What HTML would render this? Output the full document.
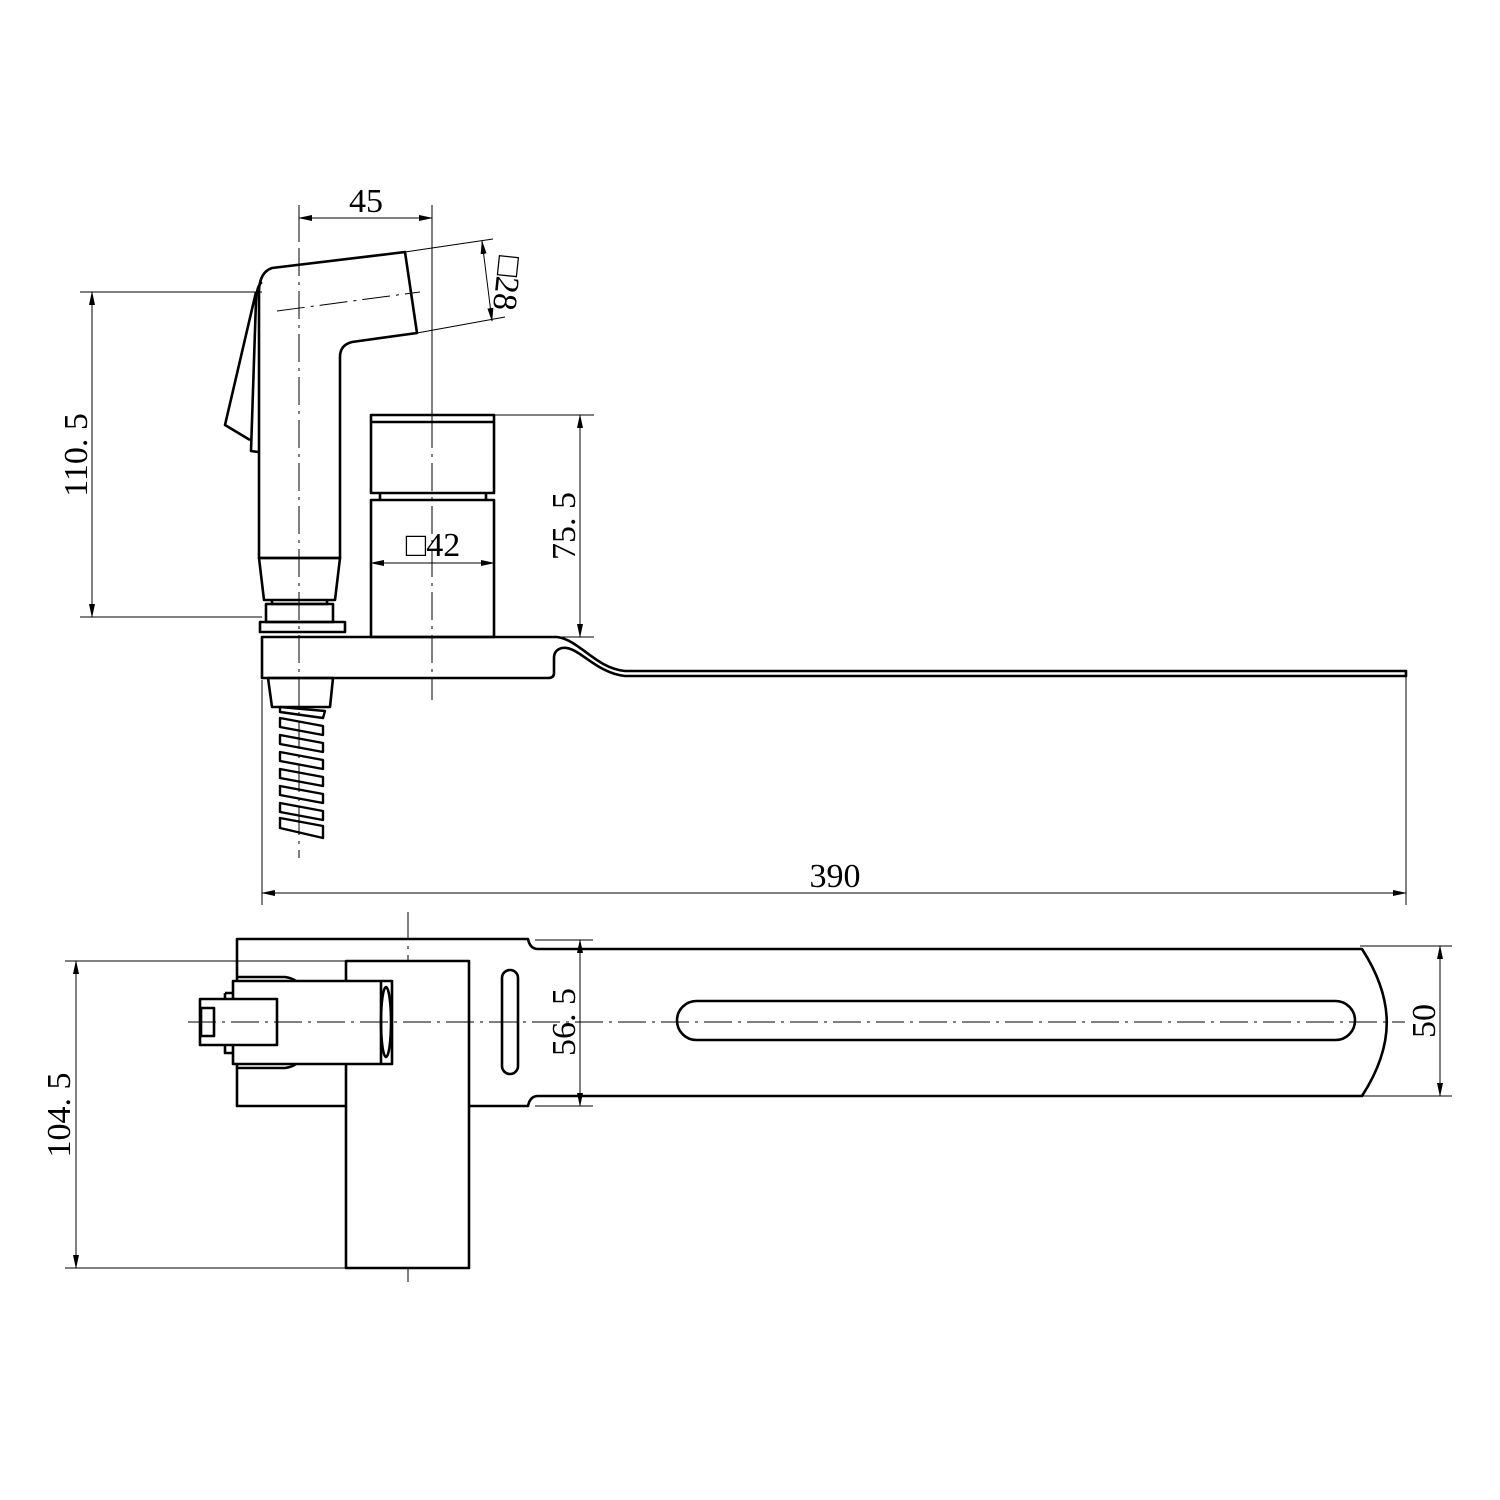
<!DOCTYPE html>
<html><head><meta charset="utf-8"><style>
html,body{margin:0;padding:0;background:#fff}
svg{display:block}
text{font-family:"Liberation Serif",serif;font-size:34px;fill:#000}
</style></head><body>
<svg width="1500" height="1500" viewBox="0 0 1500 1500" xmlns="http://www.w3.org/2000/svg">
<defs>
<marker id="a" markerWidth="14" markerHeight="6" refX="13" refY="3" orient="auto-start-reverse" markerUnits="userSpaceOnUse"><path d="M0,0 L14,3 L0,6 Z" fill="#000"/></marker>
</defs>
<g fill="none" stroke="#000">
<g stroke-width="1" stroke-dasharray="28,6,3,6">
<line x1="299" y1="205" x2="299" y2="858"/>
<line x1="432" y1="205" x2="432" y2="700"/>
<line x1="277" y1="311" x2="420" y2="292"/>
<line x1="188" y1="1022" x2="1405" y2="1022"/>
<line x1="408" y1="912" x2="408" y2="1282"/>
</g>
<g stroke-width="1">
<line x1="299" y1="205" x2="299" y2="240"/>
<line x1="432" y1="205" x2="432" y2="420"/>
<line x1="299" y1="218" x2="432" y2="218" marker-start="url(#a)" marker-end="url(#a)"/>
<line x1="80" y1="292" x2="262" y2="292"/>
<line x1="80" y1="617" x2="262" y2="617"/>
<line x1="92" y1="292" x2="92" y2="617" marker-start="url(#a)" marker-end="url(#a)"/>
<line x1="405" y1="252" x2="493" y2="239"/>
<line x1="417" y1="333" x2="505" y2="317"/>
<line x1="482" y1="241" x2="492" y2="321" marker-start="url(#a)" marker-end="url(#a)"/>
<line x1="494" y1="415" x2="594" y2="415"/>
<line x1="494" y1="637" x2="594" y2="637"/>
<line x1="580" y1="415" x2="580" y2="637" marker-start="url(#a)" marker-end="url(#a)"/>
<line x1="371" y1="563" x2="494" y2="563" marker-start="url(#a)" marker-end="url(#a)"/>
<line x1="262" y1="680" x2="262" y2="905"/>
<line x1="1406" y1="676" x2="1406" y2="905"/>
<line x1="262" y1="893" x2="1406" y2="893" marker-start="url(#a)" marker-end="url(#a)"/>
<line x1="65" y1="961" x2="346" y2="961"/>
<line x1="65" y1="1268" x2="346" y2="1268"/>
<line x1="76" y1="961" x2="76" y2="1268" marker-start="url(#a)" marker-end="url(#a)"/>
<line x1="535" y1="940" x2="593" y2="940"/>
<line x1="535" y1="1106" x2="593" y2="1106"/>
<line x1="580" y1="940" x2="580" y2="1106" marker-start="url(#a)" marker-end="url(#a)"/>
<line x1="1360" y1="946" x2="1452" y2="946"/>
<line x1="1360" y1="1096" x2="1452" y2="1096"/>
<line x1="1440" y1="946" x2="1440" y2="1096" marker-start="url(#a)" marker-end="url(#a)"/>
</g>
<g stroke-width="2.6" stroke-linejoin="round">
<path d="M259,558 L259,290 Q260,272 272,268 L405,252 L417,333 L352,342 Q340,345 340,357 L340,558 Z"/>
<path d="M256,292 L225,425 L250,440 M262,282 Q257,285 256,300 L251,451 L258,452"/>
<path d="M259,558 L340,558 L335,600 L264,600 Z"/>
<path d="M272,600 L272,604 L327,604 L327,600"/>
<path d="M266,604 L333,604 L333,622 L266,622 Z"/>
<path d="M260,622 L345,622 L345,632 L260,632 Z"/>
<path d="M262,637 L557,637 C580,640 595,668 625,671 L1406,671 L1406,676 L625,676 C595,673 578,645 562,648 Q554,650 554,658 L554,673 Q554,678 548,678 L262,678 Z"/>
<path d="M268,678 L333,678 L330,707 L272,707 Z"/>
<path d="M371,415 L494,415 L494,493 L371,493 Z M371,422 L494,422"/>
<path d="M380,493 L380,500 M486,493 L486,500"/>
<path d="M371,500 L494,500 L494,637 L371,637 Z"/>
<g stroke-width="2.4">
<path d="M280,707 L325,711 L323,718 L280,712 Z"/>
<path d="M280,718 L323,726 L323,735 L280,727 Z"/>
<path d="M280,735 L323,743 L323,752 L280,744 Z"/>
<path d="M280,752 L323,760 L323,769 L280,761 Z"/>
<path d="M280,769 L323,777 L323,786 L280,778 Z"/>
<path d="M280,786 L323,794 L323,803 L280,795 Z"/>
<path d="M280,803 L323,811 L323,820 L280,812 Z"/>
<path d="M280,818 L323,826 L323,838 L280,828 Z"/>
</g>
<path d="M237,939 L528,939 Q530,949 538,949 L1362,949 C1395,1000 1395,1045 1362,1096 L538,1096 Q530,1096 528,1106 L237,1106 Z"/>
<path d="M346,1268 L346,961 L469,961 L469,1268 Z" fill="#fff"/>
<path d="M233,981 L392,981 L392,1064 L233,1064 Z" fill="#fff"/>
<path d="M236,977 L285,977 Q292,978 296,981 M236,1068 L285,1068 Q292,1067 296,1064"/>
<line x1="381" y1="981" x2="381" y2="1064"/>
<ellipse cx="386" cy="1022" rx="5" ry="35"/>
<path d="M225,993 L233,993 M225,993 L225,999 M225,1046 L225,1053 L233,1053"/>
<rect x="200" y="999" width="77" height="46" fill="#fff"/>
<rect x="201" y="1008" width="13" height="28"/>
<rect x="502" y="970" width="16" height="104" rx="8"/>
<rect x="677" y="1001" width="678" height="39" rx="19.5"/>
</g>
</g>
<line x1="188" y1="1022" x2="520" y2="1022" stroke="#000" stroke-width="1" stroke-dasharray="28,6,3,6"/>
<text x="366" y="212" text-anchor="middle">45</text>
<text x="835" y="887" text-anchor="middle">390</text>
<text x="433" y="556" text-anchor="middle">□42</text>
<text transform="translate(87,455) rotate(-90)" text-anchor="middle">110. 5</text>
<text transform="translate(575,526) rotate(-90)" text-anchor="middle">75. 5</text>
<text transform="translate(575,1022) rotate(-90)" text-anchor="middle">56. 5</text>
<text transform="translate(70,1115) rotate(-90)" text-anchor="middle">104. 5</text>
<text transform="translate(1435,1021) rotate(-90)" text-anchor="middle">50</text>
<text transform="translate(496,282) rotate(96)" text-anchor="middle">□28</text>
</svg>
</body></html>
